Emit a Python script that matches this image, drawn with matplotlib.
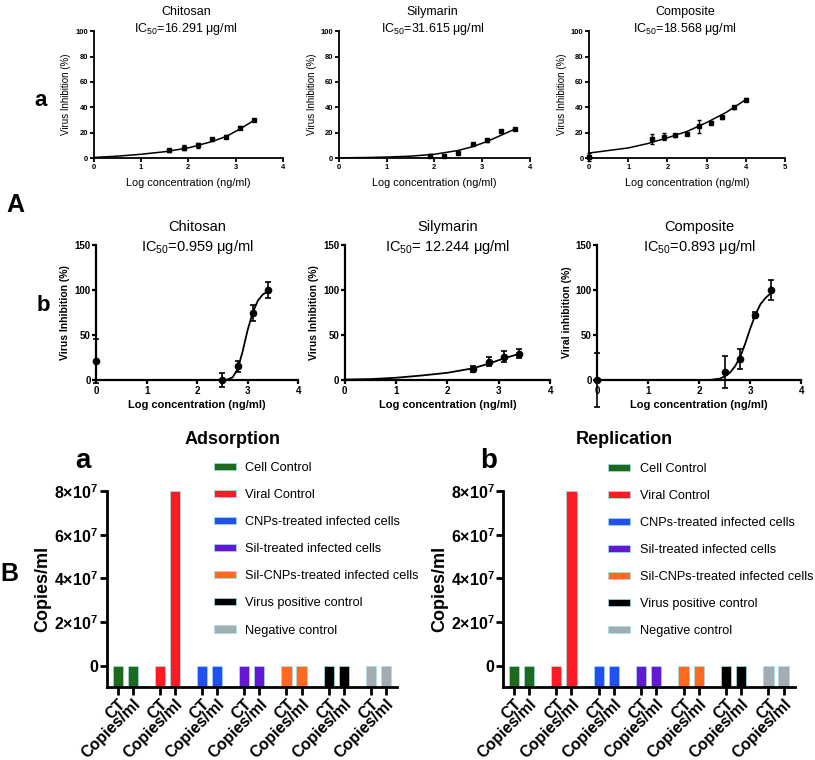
import numpy as np
import matplotlib.pyplot as plt
from matplotlib.ticker import FuncFormatter

plt.rcParams['font.family'] = ['Liberation Sans', 'DejaVu Sans']
plt.rcParams['mathtext.fontset'] = 'custom'
plt.rcParams['mathtext.rm'] = 'Liberation Sans'
plt.rcParams['mathtext.bf'] = 'Liberation Sans:bold'

# ---------------- A (a): top row dose-response ----------------
a_titles = ['Chitosan', 'Silymarin', 'Composite']
a_ic50 = ['16.291', '31.615', '18.568']

a_chit_x = [1.6, 1.9, 2.2, 2.5, 2.8, 3.1, 3.4]
a_chit_y = [6, 8, 10, 15, 17, 24, 30]
a_chit_err = [1, 2, 2, 1, 1, 1, 1]
a_chit_fit_x = [0, 0.5, 1.0, 1.5, 2.0, 2.5, 2.8, 3.1, 3.4]
a_chit_fit_y = [0.5, 1.5, 3, 5, 8, 13, 17, 23, 30]

a_sil_x = [1.9, 2.2, 2.5, 2.8, 3.1, 3.4, 3.7]
a_sil_y = [2, 1.5, 4, 11, 14, 21, 23]
a_sil_err = [1, 1, 1, 1, 1, 1, 1]
a_sil_fit_x = [0, 0.5, 1.0, 1.5, 2.0, 2.5, 2.8, 3.1, 3.4, 3.7]
a_sil_fit_y = [0.2, 0.4, 0.8, 1.5, 3, 6, 9, 13, 18, 23]

a_comp_x = [0, 1.6, 1.9, 2.2, 2.5, 2.8, 3.1, 3.4, 3.7, 4.0]
a_comp_y = [1, 15, 17, 18, 19, 25, 28, 32, 40, 46]
a_comp_err = [3, 4, 3, 1, 1, 5, 1, 1, 1, 1]
a_comp_fit_x = [0, 0.5, 1.0, 1.5, 2.0, 2.5, 3.0, 3.5, 4.0]
a_comp_fit_y = [4, 6, 8, 11.5, 16, 21, 28, 36, 46]

# ---------------- A (b): middle row dose-response ----------------
b_titles = ['Chitosan', 'Silymarin', 'Composite']
b_ic50 = ['=0.959', '= 12.244', '=0.893']
b_ylabels = ['Virus Inhibition (%)', 'Virus Inhibition (%)', 'Viral inhibition (%)']

b_chit_x = [0, 2.5, 2.8, 3.1, 3.4]
b_chit_y = [21, 0, 15, 74, 100]
b_chit_err = [24, 8, 6, 9, 9]
b_chit_fit_x = [0, 2.5, 2.6, 2.7, 2.8, 2.9, 3.0, 3.1, 3.2, 3.3, 3.4]
b_chit_fit_y = [0, 0, 0.5, 3, 12, 32, 56, 75, 88, 95, 98]

b_sil_x = [2.5, 2.8, 3.1, 3.4]
b_sil_y = [12, 20, 26, 29]
b_sil_err = [3, 5, 6, 5]
b_sil_fit_x = [0, 0.5, 1.0, 1.5, 2.0, 2.5, 2.8, 3.1, 3.4]
b_sil_fit_y = [0.5, 1, 2.5, 5, 8, 13, 18, 24, 29]

b_comp_x = [0, 2.5, 2.8, 3.1, 3.4]
b_comp_y = [0, 9, 23, 72, 100]
b_comp_err = [30, 18, 11, 3, 11]
b_comp_fit_x = [0, 2.2, 2.4, 2.5, 2.6, 2.7, 2.8, 2.9, 3.0, 3.1, 3.2, 3.3, 3.4]
b_comp_fit_y = [0, 0, 1.5, 4, 8, 15, 25, 40, 57, 72, 84, 91, 96]

# ---------------- B: qPCR bars ----------------
groups = ['Cell Control', 'Viral Control', 'CNPs-treated infected cells',
          'Sil-treated infected cells', 'Sil-CNPs-treated infected cells',
          'Virus positive control', 'Negative control']
group_colors = ['#1d6a1d', '#ff1a24', '#2150f0', '#6418d6', '#ff6a1e',
                '#000000', '#a3abb3']
bar_labels = ['CT', 'Copies/ml']
ads_ct = [0, 28, 31, 30, 32, 27, 0]
ads_copies = [0, 8.0e7, 0, 0, 0, 0, 0]
rep_ct = [0, 29, 30, 31, 31, 27, 0]
rep_copies = [0, 8.0e7, 0, 0, 0, 0, 0]
bar_titles = ['Adsorption', 'Replication']
bar_letters = ['a', 'b']

fig = plt.figure(figsize=(8.15, 7.6), dpi=100)


def style_axes(ax, lw, fs, bold=False):
    ax.spines['top'].set_visible(False)
    ax.spines['right'].set_visible(False)
    ax.spines['left'].set_linewidth(lw)
    ax.spines['bottom'].set_linewidth(lw)
    ax.tick_params(width=lw, length=3, labelsize=fs, pad=1)
    if bold:
        for t in ax.get_xticklabels() + ax.get_yticklabels():
            t.set_fontweight('bold')


# top row
top_pos = [[0.115, 0.792, 0.232, 0.167],
           [0.416, 0.792, 0.234, 0.167],
           [0.723, 0.792, 0.240, 0.167]]
top_data = [(a_chit_x, a_chit_y, a_chit_err, a_chit_fit_x, a_chit_fit_y, 4),
            (a_sil_x, a_sil_y, a_sil_err, a_sil_fit_x, a_sil_fit_y, 4),
            (a_comp_x, a_comp_y, a_comp_err, a_comp_fit_x, a_comp_fit_y, 5)]
for i, (x, y, e, fx, fy, xmax) in enumerate(top_data):
    ax = fig.add_axes(top_pos[i])
    ax.plot(fx, fy, color='black', lw=1.1)
    ax.errorbar(x, y, yerr=e, fmt='s', ms=3.5, color='black', capsize=1.5,
                elinewidth=1, capthick=1, clip_on=False)
    ax.set_xlim(0, xmax)
    ax.set_ylim(0, 100)
    ax.set_xticks(range(xmax + 1))
    ax.set_yticks([0, 20, 40, 60, 80, 100])
    style_axes(ax, 1.3, 5.5, bold=True)
    ax.set_ylabel('Virus Inhibition (%)', fontsize=7, labelpad=3)
    ax.set_xlabel('Log concentration (ng/ml)', fontsize=7.8, labelpad=5)
    ax.text(0.49, 1.15, a_titles[i], transform=ax.transAxes, ha='center',
            va='center', fontsize=9)
    ax.text(0.49, 1.02, 'IC$_{50}$=' + a_ic50[i] + ' μg/ml',
            transform=ax.transAxes, ha='center', va='center', fontsize=9)

# middle row
mid_pos = [[0.118, 0.5, 0.248, 0.178],
           [0.423, 0.5, 0.252, 0.178],
           [0.733, 0.5, 0.250, 0.178]]
mid_data = [(b_chit_x, b_chit_y, b_chit_err, b_chit_fit_x, b_chit_fit_y),
            (b_sil_x, b_sil_y, b_sil_err, b_sil_fit_x, b_sil_fit_y),
            (b_comp_x, b_comp_y, b_comp_err, b_comp_fit_x, b_comp_fit_y)]
for i, (x, y, e, fx, fy) in enumerate(mid_data):
    ax = fig.add_axes(mid_pos[i])
    ax.plot(fx, fy, color='black', lw=1.3, clip_on=False)
    ax.errorbar(x, y, yerr=e, fmt='o', ms=4.5, color='black', capsize=2,
                elinewidth=1.2, capthick=1.2, clip_on=False)
    ax.set_xlim(0, 4)
    ax.set_ylim(0, 150)
    ax.set_xticks([0, 1, 2, 3, 4])
    ax.set_yticks([0, 50, 100, 150])
    style_axes(ax, 1.6, 7, bold=True)
    ax.set_ylabel(b_ylabels[i], fontsize=7.5, fontweight='bold', labelpad=3)
    ax.set_xlabel('Log concentration (ng/ml)', fontsize=8, fontweight='bold',
                  labelpad=3)
    ax.text(0.5, 1.13, b_titles[i], transform=ax.transAxes, ha='center',
            va='center', fontsize=10.5)
    ax.text(0.5, 0.98, 'IC$_{50}$' + b_ic50[i] + ' μg/ml',
            transform=ax.transAxes, ha='center', va='center', fontsize=10.5)

# bottom row
ymin = -0.96e7
pitch = 2.8
bar_pos = [[0.131, 0.096, 0.356, 0.258],
           [0.617, 0.096, 0.358, 0.258]]
bar_data = [(ads_ct, ads_copies), (rep_ct, rep_copies)]
legend_anchor = [(0.262, 0.392), (0.746, 0.391)]
title_x = [0.285, 0.766]
letter_x = [0.102, 0.600]
for k, (ct, cp) in enumerate(bar_data):
    ax = fig.add_axes(bar_pos[k])
    ticks, labels = [], []
    for g in range(len(groups)):
        xs = [pitch * g, pitch * g + 1]
        vals = np.array([ct[g], cp[g]], dtype=float)
        ax.bar(xs, vals - ymin, bottom=ymin, width=0.68,
               color=group_colors[g], edgecolor='#9fe0e8', lw=0.5,
               label=groups[g])
        ticks += xs
        labels += bar_labels
    ax.set_xticks(ticks)
    ax.set_xticklabels(labels, rotation=45, ha='right',
                       rotation_mode='anchor', fontsize=9.5,
                       fontweight='bold')
    ax.set_xlim(-0.73, pitch * 6 + 1 + 0.73)
    ax.set_ylim(ymin, 8e7)
    ax.set_yticks([0, 2e7, 4e7, 6e7, 8e7])
    ax.yaxis.set_major_formatter(FuncFormatter(
        lambda v, p: '0' if v == 0 else '%d×10$^{\\mathbf{7}}$' % round(v / 1e7)))
    style_axes(ax, 2, 11.5, bold=True)
    ax.tick_params(axis='x', length=6, pad=1)
    ax.tick_params(axis='y', length=5)
    ax.set_ylabel('Copies/ml', fontsize=13, fontweight='bold', labelpad=2)
    fig.text(title_x[k], 0.422, bar_titles[k], ha='center', va='center',
             fontsize=13, fontweight='bold')
    fig.text(letter_x[k], 0.393, bar_letters[k], ha='center', va='center',
             fontsize=20, fontweight='bold')
    handles, hl = ax.get_legend_handles_labels()
    fig.legend(handles, hl, loc='upper left',
               bbox_to_anchor=legend_anchor[k], frameon=False, fontsize=9.2,
               borderpad=0, borderaxespad=0, handlelength=1.72,
               handleheight=0.47, handletextpad=0.78, labelspacing=1.18)

# panel letters
fig.text(0.05, 0.868, 'a', fontsize=16, fontweight='bold', ha='center',
         va='center')
fig.text(0.053, 0.598, 'b', fontsize=16, fontweight='bold', ha='center',
         va='center')
fig.text(0.019, 0.73, 'A', fontsize=18, fontweight='bold', ha='center',
         va='center')
fig.text(0.012, 0.245, 'B', fontsize=18, fontweight='bold', ha='center',
         va='center')

fig.savefig('out.png', dpi=100)
